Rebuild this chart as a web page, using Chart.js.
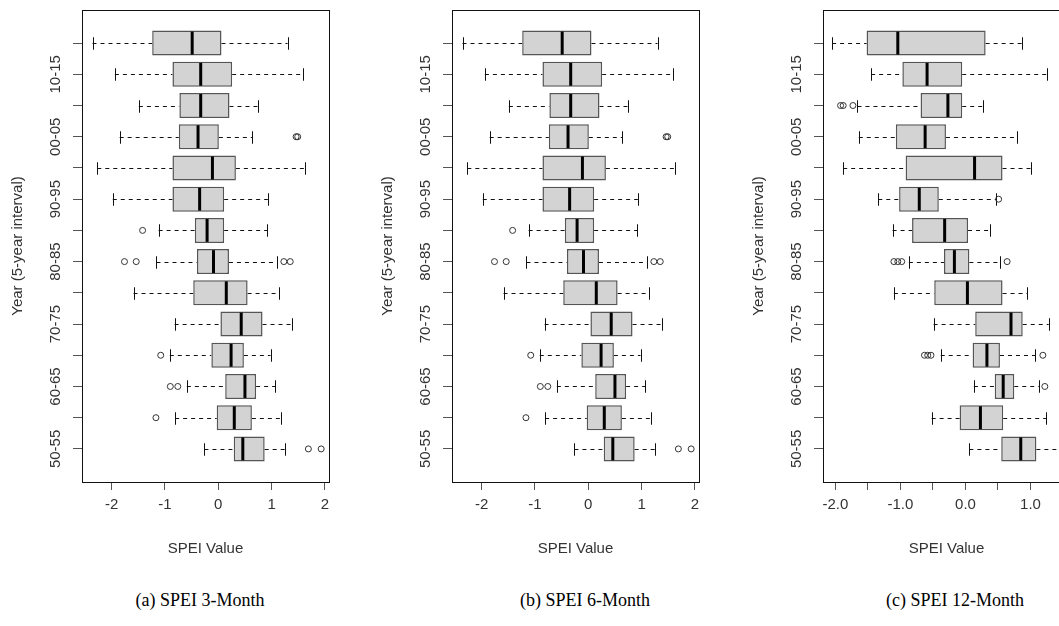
<!DOCTYPE html>
<html>
<head>
<meta charset="utf-8">
<script src="https://cdn.jsdelivr.net/npm/chart.js@4.4.1/dist/chart.umd.min.js"></script>
<style>
  body { margin: 0; width: 1059px; height: 626px; overflow: hidden; background: #fff; position: relative; }
  .panel { position: absolute; top: 0; width: 370px; height: 560px; }
  .cap { position: absolute; top: 590px; width: 200px; text-align: center; font: 18px 'Liberation Serif', 'Times New Roman', serif; color: #000; white-space: nowrap; }
</style>
</head>
<body>
<div class="panel" style="left:0px"><canvas id="c3" width="370" height="560"></canvas></div>
<div class="panel" style="left:370px"><canvas id="c6" width="370" height="560"></canvas></div>
<div class="panel" style="left:741px"><canvas id="c12" width="370" height="560"></canvas></div>
<div class="cap" style="left:100px">(a) SPEI 3-Month</div>
<div class="cap" style="left:485px">(b) SPEI 6-Month</div>
<div class="cap" style="left:855px">(c) SPEI 12-Month</div>
<script>
const FONT = "'Liberation Sans', Arial, sans-serif";

// bottom to top
const years = ['50-55', '55-60', '60-65', '65-70', '70-75', '75-80', '80-85',
               '85-90', '90-95', '95-00', '00-05', '05-10', '10-15', '15-20'];

// SPEI 3-month
const spei3Lo  = [-0.26, -0.81, -0.59, -0.91, -0.82, -1.59, -1.16, -1.12, -1.98, -2.27, -1.85, -1.49, -1.94, -2.36];
const spei3Q1  = [0.29, -0.03, 0.13, -0.13, 0.04, -0.47, -0.40, -0.44, -0.86, -0.86, -0.74, -0.73, -0.86, -1.24];
const spei3Med = [0.46, 0.30, 0.50, 0.24, 0.43, 0.15, -0.09, -0.21, -0.35, -0.11, -0.38, -0.33, -0.33, -0.49];
const spei3Q3  = [0.87, 0.63, 0.71, 0.48, 0.83, 0.55, 0.20, 0.11, 0.11, 0.33, 0.01, 0.21, 0.26, 0.06];
const spei3Hi  = [1.26, 1.18, 1.07, 0.98, 1.38, 1.13, 1.10, 0.92, 0.93, 1.63, 0.64, 0.74, 1.58, 1.30];
const spei3OutYear = ['50-55', '50-55', '55-60', '60-65', '60-65', '65-70', '80-85', '80-85', '80-85', '80-85', '85-90', '00-05', '00-05'];
const spei3OutVal  = [1.69, 1.93, -1.17, -0.90, -0.76, -1.08, -1.76, -1.54, 1.23, 1.35, -1.42, 1.46, 1.49];

// SPEI 6-month
const spei6Lo  = [-0.26, -0.81, -0.59, -0.91, -0.82, -1.59, -1.16, -1.12, -1.98, -2.27, -1.85, -1.49, -1.94, -2.36];
const spei6Q1  = [0.29, -0.03, 0.13, -0.13, 0.04, -0.47, -0.40, -0.44, -0.86, -0.86, -0.74, -0.73, -0.86, -1.24];
const spei6Med = [0.46, 0.30, 0.50, 0.24, 0.43, 0.15, -0.09, -0.21, -0.35, -0.11, -0.38, -0.33, -0.33, -0.49];
const spei6Q3  = [0.87, 0.63, 0.71, 0.48, 0.83, 0.55, 0.20, 0.11, 0.11, 0.33, 0.01, 0.21, 0.26, 0.06];
const spei6Hi  = [1.26, 1.18, 1.07, 0.98, 1.38, 1.13, 1.10, 0.92, 0.93, 1.63, 0.64, 0.74, 1.58, 1.30];
const spei6OutYear = ['50-55', '50-55', '55-60', '60-65', '60-65', '65-70', '80-85', '80-85', '80-85', '80-85', '85-90', '00-05', '00-05'];
const spei6OutVal  = [1.69, 1.93, -1.17, -0.90, -0.76, -1.08, -1.76, -1.54, 1.23, 1.35, -1.42, 1.46, 1.49];

// SPEI 12-month
const spei12Lo  = [0.06, -0.52, 0.13, -0.38, -0.49, -1.10, -0.87, -1.12, -1.34, -1.88, -1.64, -1.66, -1.45, -2.05];
const spei12Q1  = [0.55, -0.09, 0.45, 0.11, 0.15, -0.48, -0.33, -0.82, -1.02, -0.92, -1.07, -0.69, -0.97, -1.52];
const spei12Med = [0.85, 0.23, 0.58, 0.33, 0.70, 0.03, -0.17, -0.32, -0.71, 0.14, -0.62, -0.27, -0.59, -1.04];
const spei12Q3  = [1.09, 0.58, 0.75, 0.53, 0.88, 0.57, 0.06, 0.04, -0.41, 0.57, -0.30, -0.05, -0.05, 0.31];
const spei12Hi  = [1.45, 1.24, 1.13, 1.07, 1.28, 0.95, 0.53, 0.37, 0.47, 1.00, 0.79, 0.27, 1.25, 0.87];
const spei12OutYear = ['60-65', '65-70', '65-70', '65-70', '65-70', '80-85', '80-85', '80-85', '80-85', '90-95', '05-10', '05-10', '05-10'];
const spei12OutVal  = [1.22, -0.63, -0.58, -0.53, 1.19, -1.10, -1.04, -0.98, 0.64, 0.51, -1.92, -1.88, -1.73];

const ticksWhole = [-2, -1, 0, 1, 2];
const ticksHalf  = [-2, -1.5, -1, -0.5, 0, 0.5, 1, 1.5];

function boxPlugin(lo, med, hi) {
  return {
    id: 'rbox',
    beforeDatasetsDraw(chart) {
      const { ctx, scales: { x, y } } = chart;
      const step = Math.abs(y.getPixelForValue(2) - y.getPixelForValue(1));
      const half = step * 0.8 / 2;
      const meta = chart.getDatasetMeta(0);
      ctx.save();
      ctx.strokeStyle = '#111';
      ctx.lineWidth = 1;
      years.forEach((yr, i) => {
        const py = Math.round(y.getPixelForValue(i + 1)) + 0.5;
        const box = meta.data[i];
        const l = Math.min(box.x, box.base), r = Math.max(box.x, box.base);
        const xl = x.getPixelForValue(lo[i]), xh = x.getPixelForValue(hi[i]);
        ctx.setLineDash([4, 4]);
        ctx.beginPath();
        ctx.moveTo(xl, py); ctx.lineTo(l, py);
        ctx.moveTo(r, py); ctx.lineTo(xh, py);
        ctx.stroke();
        ctx.setLineDash([]);
        ctx.beginPath();
        ctx.moveTo(Math.round(xl) + 0.5, py - half / 2); ctx.lineTo(Math.round(xl) + 0.5, py + half / 2);
        ctx.moveTo(Math.round(xh) + 0.5, py - half / 2); ctx.lineTo(Math.round(xh) + 0.5, py + half / 2);
        ctx.stroke();
      });
      ctx.restore();
    },
    afterDatasetsDraw(chart) {
      const { ctx, scales: { x, y } } = chart;
      const step = Math.abs(y.getPixelForValue(2) - y.getPixelForValue(1));
      const half = step * 0.8 / 2;
      ctx.save();
      ctx.strokeStyle = '#000';
      ctx.lineWidth = 3;
      years.forEach((yr, i) => {
        const py = y.getPixelForValue(i + 1);
        const px = x.getPixelForValue(med[i]);
        ctx.beginPath();
        ctx.moveTo(px, py - half + 1); ctx.lineTo(px, py + half - 1);
        ctx.stroke();
      });
      ctx.restore();
    },
    afterDraw(chart) {
      const { ctx, chartArea: a, scales: { y } } = chart;
      ctx.save();
      ctx.strokeStyle = '#111';
      ctx.lineWidth = 1;
      const L = Math.round(a.left) + 0.5, T = Math.round(a.top) + 0.5;
      ctx.strokeRect(L, T, Math.round(a.right) - Math.round(a.left), Math.round(a.bottom) - Math.round(a.top));
      // category labels, R style: vertical, every other one
      ctx.font = '15px ' + FONT;
      ctx.fillStyle = '#333';
      ctx.textAlign = 'center';
      ctx.textBaseline = 'alphabetic';
      years.forEach((yr, i) => {
        if (i % 2) return;
        ctx.save();
        ctx.translate(a.left - 22, y.getPixelForValue(i + 1));
        ctx.rotate(-Math.PI / 2);
        ctx.fillText(yr, 0, 0);
        ctx.restore();
      });
      ctx.restore();
    }
  };
}

function makePanel(id, lo, q1, med, q3, hi, outYear, outVal, xMin, xMax, xTicks, fmt) {
  const boxes = years.map((yr, i) => ({ y: i + 1, x: [q1[i], q3[i]] }));
  const outs = outYear.map((yr, k) => ({ y: years.indexOf(yr) + 1, x: outVal[k] }));
  return new Chart(document.getElementById(id), {
    type: 'bar',
    data: {
      datasets: [
        {
          type: 'bar', data: boxes,
          backgroundColor: '#d3d3d3', borderColor: '#555', borderWidth: 1.5, borderSkipped: false,
          categoryPercentage: 0.8, barPercentage: 1
        },
        {
          type: 'scatter', data: outs,
          pointStyle: 'circle', pointRadius: 3, backgroundColor: 'rgba(0,0,0,0)',
          borderColor: '#333', borderWidth: 1
        }
      ]
    },
    options: {
      indexAxis: 'y',
      responsive: false,
      animation: false,
      layout: { padding: { left: 0, top: 10, right: 41, bottom: 0 } },
      plugins: { legend: { display: false }, tooltip: { enabled: false } },
      scales: {
        x: {
          type: 'linear', position: 'bottom', min: xMin, max: xMax, offset: false,
          afterBuildTicks: s => { s.ticks = xTicks.map(v => ({ value: v })); },
          afterFit: s => { s.height = 78; },
          grid: { display: true, drawOnChartArea: false, drawTicks: true, tickLength: 8, color: '#555', offset: false },
          border: { display: true, color: '#111' },
          ticks: { color: '#333', font: { size: 15, family: FONT }, padding: 6, maxRotation: 0, autoSkip: false, callback: fmt },
          title: { display: true, text: 'SPEI Value', color: '#333', font: { size: 15, family: FONT }, padding: { top: 0, bottom: 2 } }
        },
        y: {
          type: 'linear', position: 'left', min: -0.06, max: 15.06, offset: false,
          afterBuildTicks: s => { s.ticks = years.map((yr, i) => ({ value: i + 1 })); },
          afterFit: s => { s.width = 82; },
          grid: { display: true, drawOnChartArea: false, drawTicks: true, tickLength: 9, color: '#555', offset: false },
          border: { display: true, color: '#111' },
          ticks: { display: false },
          title: { display: true, text: 'Year (5-year interval)', color: '#333', font: { size: 15, family: FONT }, padding: { top: 9, bottom: 0 } }
        }
      }
    },
    plugins: [boxPlugin(lo, med, hi)]
  });
}

makePanel('c3', spei3Lo, spei3Q1, spei3Med, spei3Q3, spei3Hi, spei3OutYear, spei3OutVal,
  -2.557, 2.077, ticksWhole, v => String(v));
makePanel('c6', spei6Lo, spei6Q1, spei6Med, spei6Q3, spei6Hi, spei6OutYear, spei6OutVal,
  -2.557, 2.077, ticksWhole, v => String(v));
makePanel('c12', spei12Lo, spei12Q1, spei12Med, spei12Q3, spei12Hi, spei12OutYear, spei12OutVal,
  -2.19, 1.607, ticksHalf, v => Number.isInteger(v) ? v.toFixed(1) : '');
</script>
</body>
</html>
